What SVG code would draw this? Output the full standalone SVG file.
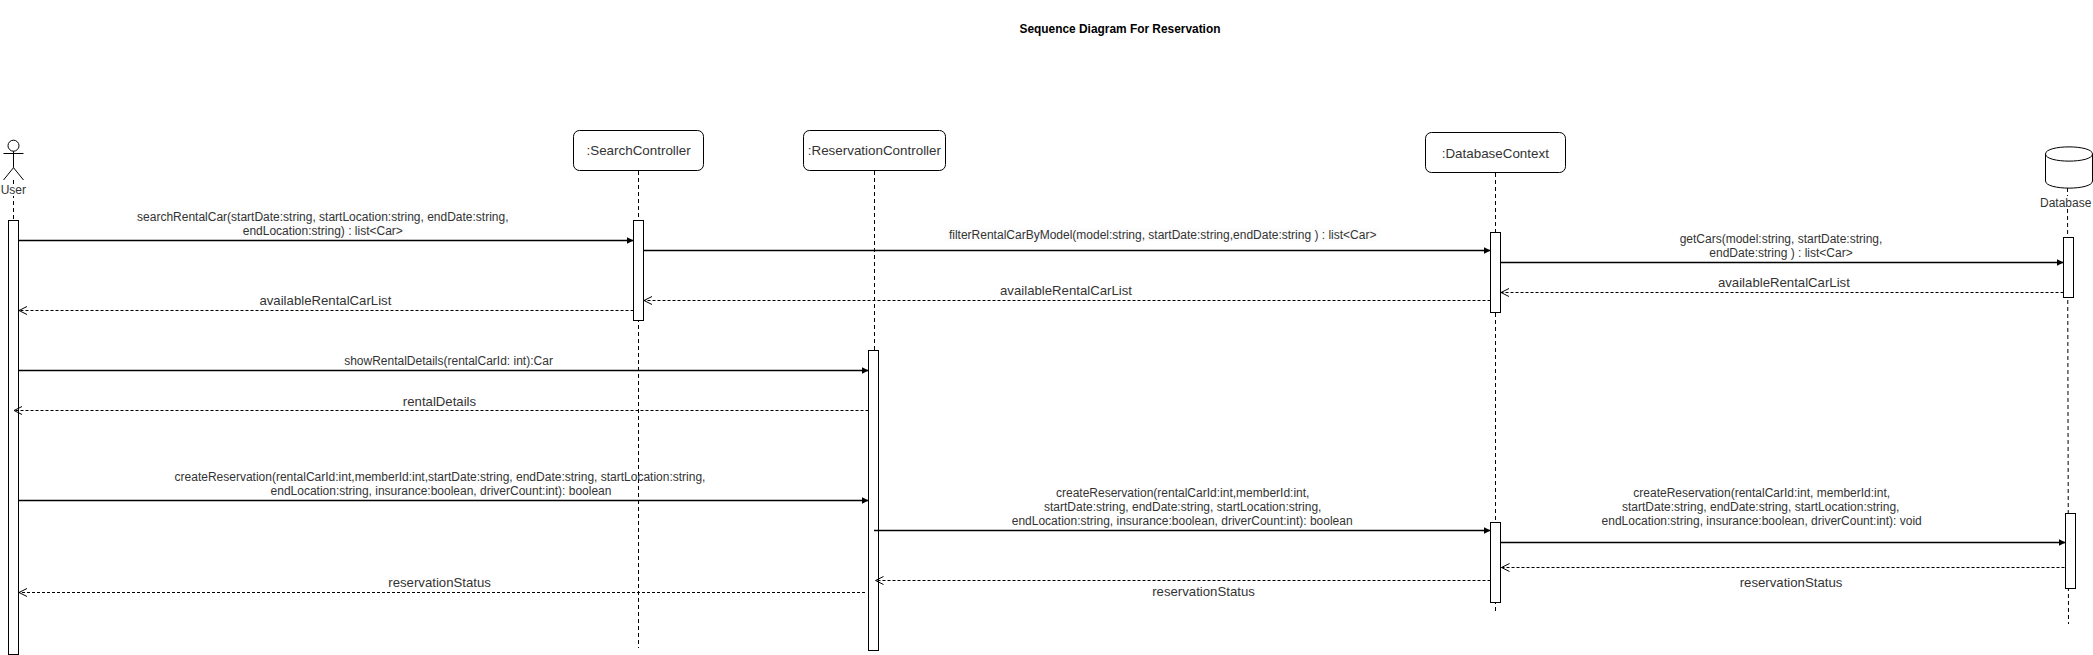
<svg xmlns="http://www.w3.org/2000/svg" width="2093" height="655" viewBox="0 0 2093 655">
<style>
text{font-family:"Liberation Sans",Arial,sans-serif;fill:#1a1a1a;text-anchor:middle;dominant-baseline:central}
.s{font-size:12px;fill:#333}
.r{font-size:13.2px;fill:#333}
.n{font-size:13.4px;fill:#333}
.a{font-size:12px;fill:#333}
.title{font-size:11.9px;font-weight:bold;fill:#000}
.box{fill:#fff;stroke:#000;stroke-width:1}
.act{fill:#fff;stroke:#000;stroke-width:1}
.life{fill:none;stroke:#000;stroke-width:1;stroke-dasharray:4 3}
.call{fill:none;stroke:#000;stroke-width:1.3;marker-end:url(#solid)}
.ret{fill:none;stroke:#000;stroke-width:1;stroke-dasharray:3 2;marker-end:url(#open)}
.bg{fill:#fcfcfc}
</style>
<defs>
<marker id="solid" markerUnits="userSpaceOnUse" markerWidth="8" markerHeight="8" refX="7" refY="4" orient="auto"><path d="M0 0.5L7 4L0 7.5Z" fill="#000"/></marker>
<marker id="open" markerUnits="userSpaceOnUse" markerWidth="10" markerHeight="12" refX="9" refY="6" orient="auto"><path d="M1 2L9 6L1 10" fill="none" stroke="#000" stroke-width="1"/></marker>
</defs>
<rect width="2093" height="655" fill="#fff"/>
<text class="title" x="1120" y="29">Sequence Diagram For Reservation</text>

<g id="lifelines">
<line class="life" x1="13.5" y1="180" x2="13.5" y2="220"/>
<line class="life" x1="638.5" y1="171" x2="638.5" y2="648"/>
<line class="life" x1="874.5" y1="171" x2="874.5" y2="350"/>
<line class="life" x1="1495.5" y1="173" x2="1495.5" y2="613"/>
<line class="life" x1="2067.5" y1="188" x2="2068.5" y2="624"/>
</g>

<g id="node-user">
<circle class="box" cx="13.5" cy="145.7" r="5.5"/>
<path d="M13.5 151.2V167.7M3.5 153.5H23.5M3.5 180L13.5 167.7L23.5 180" fill="none" stroke="#000"/>
<rect x="1" y="184" width="25" height="12" fill="#fff"/>
<text class="a" x="13.3" y="190">User</text>
<rect class="act" x="8.5" y="220.5" width="10" height="434"/>
</g>
<g id="node-search">
<rect class="box" x="573.5" y="130.5" width="130" height="40" rx="6"/>
<text class="n" x="638.6" y="150.7">:SearchController</text>
<rect class="act" x="633.5" y="220.5" width="10" height="100"/>
</g>
<g id="node-reservation">
<rect class="box" x="803.5" y="130.5" width="142" height="40" rx="6"/>
<text class="n" x="874.4" y="150.7">:ReservationController</text>
<rect class="act" x="868.5" y="350.5" width="10" height="300"/>
</g>
<g id="node-context">
<rect class="box" x="1425.5" y="132.5" width="140" height="40" rx="6"/>
<text class="n" x="1495.3" y="153">:DatabaseContext</text>
<rect class="act" x="1490.5" y="232.5" width="10" height="80"/>
<rect class="act" x="1490.5" y="522.5" width="10" height="80"/>
</g>
<g id="node-database">
<path class="box" d="M2045.5 154C2045.5 144.5 2092.5 144.5 2092.5 154V181C2092.5 190.5 2045.5 190.5 2045.5 181Z"/>
<path d="M2045.5 154C2045.5 163.5 2092.5 163.5 2092.5 154" fill="none" stroke="#000"/>
<rect x="2040" y="196" width="52" height="13" fill="#fff"/>
<text class="a" x="2065.7" y="202.7">Database</text>
<rect class="act" x="2063.5" y="237.5" width="10" height="60"/>
<rect class="act" x="2065.5" y="513.5" width="10" height="75"/>
</g>

<g id="connectors">
<line class="call" x1="18.5" y1="240.5" x2="633.5" y2="240.5"/>
<line class="call" x1="643.5" y1="250.5" x2="1490.5" y2="250.5"/>
<line class="call" x1="1500.5" y1="262.5" x2="2063.5" y2="262.5"/>
<line class="ret" x1="2063.5" y1="292.5" x2="1501" y2="292.5"/>
<line class="ret" x1="1490.5" y1="300.5" x2="644" y2="300.5"/>
<line class="ret" x1="633.5" y1="310.5" x2="19" y2="310.5"/>
<line class="call" x1="18.5" y1="370.5" x2="868.5" y2="370.5"/>
<line class="ret" x1="868.5" y1="410.5" x2="14" y2="410.5"/>
<line class="call" x1="18.5" y1="500.5" x2="868.5" y2="500.5"/>
<line class="call" x1="874" y1="530.5" x2="1490.5" y2="530.5"/>
<line class="call" x1="1500.5" y1="542.5" x2="2065.5" y2="542.5"/>
<line class="ret" x1="2064.5" y1="567.5" x2="1501.5" y2="567.5"/>
<line class="ret" x1="1490.5" y1="580.5" x2="875.5" y2="580.5"/>
<line class="ret" x1="865" y1="592.5" x2="19" y2="592.5"/>
</g>

<g id="labels">
<rect class="bg" x="136" y="210" width="374" height="14"/>
<rect class="bg" x="240" y="224" width="165" height="14"/>
<text class="s" x="322.8" y="216.7">searchRentalCar(startDate:string, startLocation:string, endDate:string,</text>
<text class="s" x="322.8" y="231.3">endLocation:string) : list&lt;Car&gt;</text>
<rect class="bg" x="945" y="228" width="434.5" height="13"/>
<text class="s" x="1162.7" y="235">filterRentalCarByModel(model:string, startDate:string,endDate:string ) : list&lt;Car&gt;</text>
<text class="s" x="1781" y="239.3">getCars(model:string, startDate:string,</text>
<text class="s" x="1781" y="252.7">endDate:string ) : list&lt;Car&gt;</text>
<text class="r" x="1783.9" y="282.7">availableRentalCarList</text>
<text class="r" x="1066" y="290.7">availableRentalCarList</text>
<text class="r" x="325.4" y="300.7">availableRentalCarList</text>
<text class="s" x="448.5" y="360.7">showRentalDetails(rentalCarId: int):Car</text>
<text class="r" x="439.5" y="401">rentalDetails</text>
<text class="s" x="440" y="477">createReservation(rentalCarId:int,memberId:int,startDate:string, endDate:string, startLocation:string,</text>
<text class="s" x="441" y="491">endLocation:string, insurance:boolean, driverCount:int): boolean</text>
<text class="s" x="1182.7" y="493">createReservation(rentalCarId:int,memberId:int,</text>
<text class="s" x="1182.7" y="507">startDate:string, endDate:string, startLocation:string,</text>
<text class="s" x="1182.2" y="521">endLocation:string, insurance:boolean, driverCount:int): boolean</text>
<text class="s" x="1761.7" y="493">createReservation(rentalCarId:int, memberId:int,</text>
<text class="s" x="1760.7" y="507">startDate:string, endDate:string, startLocation:string,</text>
<text class="s" x="1761.7" y="521">endLocation:string, insurance:boolean, driverCount:int): void</text>
<text class="r" x="439.6" y="582.7">reservationStatus</text>
<text class="r" x="1203.5" y="591">reservationStatus</text>
<text class="r" x="1791" y="582.7">reservationStatus</text>
</g>
</svg>
